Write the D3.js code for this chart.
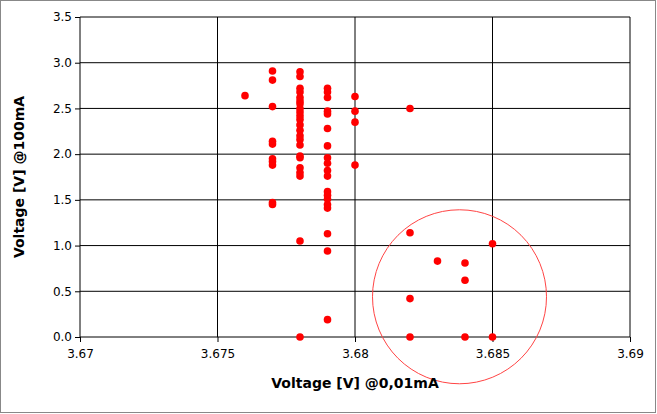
<!DOCTYPE html>
<html><head><meta charset="utf-8">
<script src="https://cdn.jsdelivr.net/npm/d3@7"></script>
<style>body{margin:0;background:#fff}</style></head>
<body><div id="chart"></div>
<script>
var xTicks = [3.67, 3.675, 3.68, 3.685, 3.69];
var yTicks = [0, 0.5, 1, 1.5, 2, 2.5, 3, 3.5];
var xs = [3.676, 3.677, 3.678, 3.679, 3.680, 3.682, 3.683, 3.684, 3.685];
var ys = [
  [2.64],
  [2.91, 2.81, 2.52, 2.14, 2.11, 1.95, 1.92, 1.88, 1.47, 1.45],
  [2.90, 2.85, 2.72, 2.68, 2.62, 2.58, 2.55, 2.50, 2.46, 2.42, 2.38, 2.32, 2.26, 2.20, 2.16, 2.10, 1.98, 1.96, 1.85, 1.80, 1.76, 1.05, 0.0],
  [2.72, 2.68, 2.62, 2.47, 2.44, 2.28, 2.09, 1.96, 1.90, 1.82, 1.76, 1.59, 1.55, 1.51, 1.45, 1.41, 1.13, 0.94, 0.19],
  [2.63, 2.47, 2.35, 1.88],
  [2.50, 1.14, 0.42, 0.0],
  [0.83],
  [0.81, 0.62, 0.0],
  [1.02, 0.0]
];
var circleCenter = [3.6838, 0.44];

var pts = [];
xs.forEach(function(x, i){ ys[i].forEach(function(y){ pts.push({x: x, y: y}); }); });

var svg = d3.select("#chart").append("svg").attr("width", 657).attr("height", 414);
svg.append("rect").attr("x", 0.5).attr("y", 0.5).attr("width", 655).attr("height", 412)
  .attr("fill", "#fff").attr("stroke", "#888");

var x = d3.scaleLinear().domain([3.67, 3.69]).range([80, 630]);
var y = d3.scaleLinear().domain([0, 3.5]).range([337, 17]);

var g = svg.append("g");
g.selectAll(".vg").data(xTicks).enter().append("line")
  .attr("x1", function(d){ return x(d); }).attr("x2", function(d){ return x(d); })
  .attr("y1", y(0)).attr("y2", y(3.5)).attr("stroke", "#000");
g.selectAll(".hg").data(yTicks).enter().append("line")
  .attr("x1", x(3.67)).attr("x2", x(3.69))
  .attr("y1", function(d){ return y(d); }).attr("y2", function(d){ return y(d); }).attr("stroke", "#000");

var xa = svg.append("g").attr("transform", "translate(0," + y(0) + ")")
  .call(d3.axisBottom(x).tickValues(xTicks).tickSize(5).tickFormat(function(d){ return +d.toFixed(3); }));
var ya = svg.append("g").attr("transform", "translate(" + x(3.67) + ",0)")
  .call(d3.axisLeft(y).tickValues(yTicks).tickSize(5).tickFormat(d3.format(".1f")));
[xa, ya].forEach(function(a){
  a.select(".domain").remove();
  a.selectAll("text").attr("font-family", "DejaVu Sans, sans-serif").attr("font-size", 12).attr("fill", "#000");
});
xa.selectAll("text").attr("dy", "1.1em");

svg.selectAll(".pt").data(pts).enter().append("circle")
  .attr("cx", function(d){ return x(d.x); }).attr("cy", function(d){ return y(d.y); })
  .attr("r", 3.8).attr("fill", "#ff0000");

svg.append("circle").attr("cx", x(circleCenter[0])).attr("cy", y(circleCenter[1]))
  .attr("r", 87).attr("fill", "none").attr("stroke", "#f44").attr("stroke-width", 1);

svg.append("text").attr("x", 355).attr("y", 388).attr("text-anchor", "middle")
  .attr("font-family", "DejaVu Sans, sans-serif").attr("font-weight", "bold").attr("font-size", 14)
  .text("Voltage [V] @0,01mA");
svg.append("text").attr("transform", "translate(24,177) rotate(-90)").attr("text-anchor", "middle")
  .attr("font-family", "DejaVu Sans, sans-serif").attr("font-weight", "bold").attr("font-size", 14)
  .text("Voltage [V] @100mA");
</script></body></html>
